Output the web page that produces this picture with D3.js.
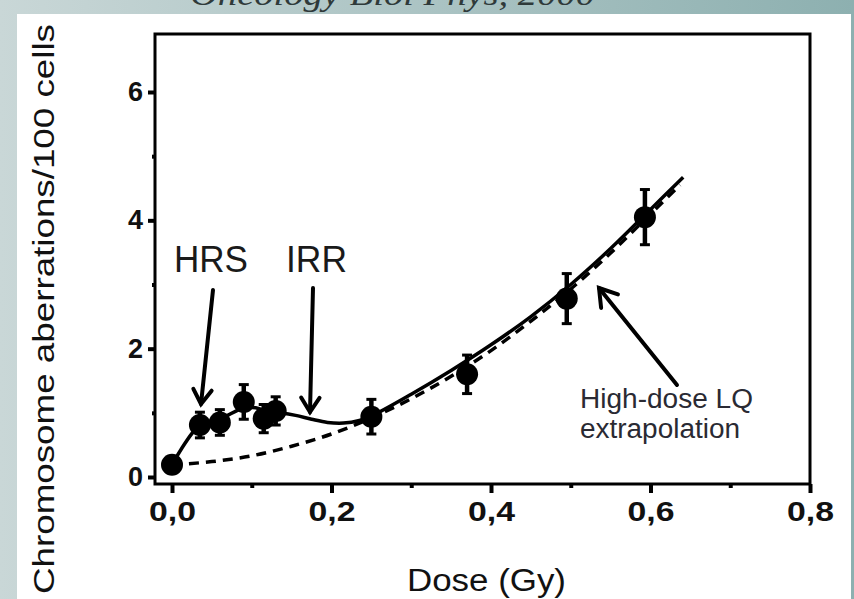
<!DOCTYPE html>
<html>
<head>
<meta charset="utf-8">
<script src="https://cdn.jsdelivr.net/npm/d3@7/dist/d3.min.js"></script>
<style>
  html, body { margin: 0; padding: 0; background: #fff; }
  svg { display: block; }
</style>
</head>
<body>
<svg id="chart" width="854" height="599"></svg>
<script>
// ---------- DATA ----------
const doses        = [0.0, 0.035, 0.06, 0.09, 0.115, 0.13, 0.25, 0.37, 0.495, 0.593];
const aberrations  = [0.19, 0.81, 0.85, 1.17, 0.91, 1.03, 0.94, 1.6, 2.78, 4.05];
const errors       = [0.08, 0.2, 0.2, 0.27, 0.22, 0.22, 0.27, 0.3, 0.39, 0.43];

// fitted (solid) curve
const fitDose  = [0.0, 0.035, 0.06, 0.09, 0.105, 0.12, 0.135, 0.155, 0.175, 0.195, 0.215, 0.235, 0.25, 0.3, 0.35, 0.4, 0.45, 0.5, 0.55, 0.6, 0.641];
const fitValue = [0.19, 0.81, 0.9, 1.08, 1.08, 1.02, 1.0, 0.96, 0.9, 0.85, 0.84, 0.88, 0.95, 1.29, 1.66, 2.06, 2.5, 3.0, 3.56, 4.17, 4.67];

// high-dose LQ extrapolation (dashed)
const lqDose  = [0.0, 0.05, 0.1, 0.15, 0.2, 0.25, 0.3, 0.35, 0.4, 0.45, 0.5, 0.55, 0.6, 0.637];
const lqValue = [0.19, 0.24, 0.33, 0.48, 0.67, 0.92, 1.22, 1.57, 1.97, 2.43, 2.93, 3.49, 4.1, 4.55];

const xTickValues = [0.0, 0.2, 0.4, 0.6, 0.8];
const xTickLabels = ["0,0", "0,2", "0,4", "0,6", "0,8"];
const xMinorTicks = [0.1, 0.3, 0.5, 0.7];
const yTickValues = [0, 2, 4, 6];
const yTickLabels = ["0", "2", "4", "6"];
const yMinorTicks = [1, 3, 5];

const xTitle = "Dose (Gy)";
const yTitle = "Chromosome aberrations/100 cells";
const topCaption = "Oncology Biol Phys, 2000";
const annHRS = "HRS";
const annIRR = "IRR";
const annLQ = ["High-dose LQ", "extrapolation"];

// ---------- DRAW ----------
const svg = d3.select("#chart");
const W = 854, H = 599;

// slide background gradient
const defs = svg.append("defs");
const grad = defs.append("linearGradient").attr("id", "bg").attr("x1", "0").attr("x2", "1").attr("y1", "0").attr("y2", "0");
grad.append("stop").attr("offset", "0%").attr("stop-color", "#c9d7d7");
grad.append("stop").attr("offset", "100%").attr("stop-color", "#8db0b0");
svg.append("rect").attr("width", W).attr("height", H).attr("fill", "url(#bg)");

// caption at the very top (cut off by the slide edge, as in the source)
svg.append("text")
  .attr("x", 190).attr("y", 5)
  .attr("font-family", "Liberation Serif, Times New Roman, serif")
  .attr("font-style", "italic")
  .attr("font-size", 32)
  .attr("fill", "#2f3a3a")
  .attr("textLength", 405).attr("lengthAdjust", "spacingAndGlyphs")
  .text(topCaption);

// white panel
svg.append("rect").attr("x", 17).attr("y", 14).attr("width", 834).attr("height", H - 14).attr("fill", "#ffffff");

const x = d3.scaleLinear().domain([0, 0.8]).range([172, 810]);
const y = d3.scaleLinear().domain([0, 6]).range([477, 92]);

const frame = { left: 155, right: 810, top: 34, bottom: 484 };

// axes
const xAxis = svg.append("g").attr("transform", `translate(0,${frame.bottom})`)
  .call(d3.axisBottom(x).tickValues(xTickValues).tickFormat((d, i) => xTickLabels[i]).tickSize(9).tickPadding(9).tickSizeOuter(0));
xAxis.select(".domain").remove();
xAxis.selectAll(".tick line").attr("stroke", "#000").attr("stroke-width", 4);
xAxis.selectAll(".tick text")
  .attr("font-family", "Liberation Sans, Arial, sans-serif").attr("font-weight", "bold")
  .attr("font-size", 27).attr("fill", "#111")
  .attr("textLength", 47).attr("lengthAdjust", "spacingAndGlyphs");

const xMinor = svg.append("g").attr("transform", `translate(0,${frame.bottom})`)
  .call(d3.axisBottom(x).tickValues(xMinorTicks).tickFormat("").tickSize(4).tickSizeOuter(0));
xMinor.select(".domain").remove();
xMinor.selectAll(".tick line").attr("stroke", "#000").attr("stroke-width", 4);

const yAxis = svg.append("g").attr("transform", `translate(${frame.left},0)`)
  .call(d3.axisLeft(y).tickValues(yTickValues).tickFormat((d, i) => yTickLabels[i]).tickSize(7).tickPadding(5).tickSizeOuter(0));
yAxis.select(".domain").remove();
yAxis.selectAll(".tick line").attr("stroke", "#000").attr("stroke-width", 4);
yAxis.selectAll(".tick text")
  .attr("font-family", "Liberation Sans, Arial, sans-serif").attr("font-weight", "bold")
  .attr("font-size", 27).attr("fill", "#111");

const yMinor = svg.append("g").attr("transform", `translate(${frame.left},0)`)
  .call(d3.axisLeft(y).tickValues(yMinorTicks).tickFormat("").tickSize(3).tickSizeOuter(0));
yMinor.select(".domain").remove();
yMinor.selectAll(".tick line").attr("stroke", "#000").attr("stroke-width", 4);

// frame
svg.append("rect")
  .attr("x", frame.left).attr("y", frame.top)
  .attr("width", frame.right - frame.left).attr("height", frame.bottom - frame.top)
  .attr("fill", "none").attr("stroke", "#000").attr("stroke-width", 3);

// axis titles
svg.append("text")
  .attr("x", 407).attr("y", 591)
  .attr("font-family", "Liberation Sans, Arial, sans-serif")
  .attr("font-size", 31).attr("fill", "#111")
  .attr("textLength", 159).attr("lengthAdjust", "spacingAndGlyphs")
  .text(xTitle);

svg.append("text")
  .attr("transform", "translate(54,594) rotate(-90)")
  .attr("font-family", "Liberation Sans, Arial, sans-serif")
  .attr("font-size", 29).attr("fill", "#111")
  .attr("textLength", 570).attr("lengthAdjust", "spacingAndGlyphs")
  .text(yTitle);

// curves
const pts = (xs, ys) => xs.map((d, i) => [d, ys[i]]);
const line = d3.line().x(d => x(d[0])).y(d => y(d[1])).curve(d3.curveMonotoneX);

svg.append("path").datum(pts(lqDose, lqValue))
  .attr("d", line).attr("fill", "none").attr("stroke", "#000")
  .attr("stroke-width", 3.5).attr("stroke-dasharray", "10,7");

svg.append("path").datum(pts(fitDose, fitValue))
  .attr("d", d3.line().x(d => x(d[0])).y(d => y(d[1])).curve(d3.curveCatmullRom.alpha(0.5)))
  .attr("fill", "none").attr("stroke", "#000").attr("stroke-width", 3.5);

// error bars
const data = pts(doses, aberrations).map((d, i) => ({ dose: d[0], val: d[1], err: errors[i] }));
const eb = svg.append("g");
eb.selectAll("line.v").data(data).join("line")
  .attr("x1", d => x(d.dose)).attr("x2", d => x(d.dose))
  .attr("y1", d => y(d.val + d.err)).attr("y2", d => y(d.val - d.err))
  .attr("stroke", "#000").attr("stroke-width", 4.5);
["top", "bot"].forEach(k => {
  eb.selectAll("line.c" + k).data(data).join("line")
    .attr("x1", d => x(d.dose) - 5).attr("x2", d => x(d.dose) + 5)
    .attr("y1", d => y(k === "top" ? d.val + d.err : d.val - d.err))
    .attr("y2", d => y(k === "top" ? d.val + d.err : d.val - d.err))
    .attr("stroke", "#000").attr("stroke-width", 3);
});

// markers
svg.append("g").selectAll("circle").data(data).join("circle")
  .attr("cx", d => x(d.dose)).attr("cy", d => y(d.val))
  .attr("r", 11).attr("fill", "#000");

// annotations
const annFont = "Liberation Sans, Arial, sans-serif";
svg.append("text").attr("x", 174).attr("y", 272)
  .attr("font-family", annFont).attr("font-size", 36).attr("fill", "#1a1a1a")
  .attr("textLength", 74).attr("lengthAdjust", "spacingAndGlyphs").text(annHRS);
svg.append("text").attr("x", 286).attr("y", 272)
  .attr("font-family", annFont).attr("font-size", 36).attr("fill", "#1a1a1a")
  .attr("textLength", 61).attr("lengthAdjust", "spacingAndGlyphs").text(annIRR);

function arrow(x1, y1, x2, y2, wing) {
  const a = Math.atan2(y2 - y1, x2 - x1);
  const g = svg.append("g").attr("stroke", "#000").attr("stroke-width", 4).attr("fill", "none").attr("stroke-linecap", "round");
  g.append("line").attr("x1", x1).attr("y1", y1).attr("x2", x2).attr("y2", y2);
  const s = Math.PI / 5.5;
  g.append("polyline").attr("points", [
    [x2 - wing * Math.cos(a - s), y2 - wing * Math.sin(a - s)],
    [x2, y2],
    [x2 - wing * Math.cos(a + s), y2 - wing * Math.sin(a + s)]
  ].map(p => p.join(",")).join(" "));
}
arrow(213, 290, 201, 404, 17);
arrow(313, 288, 310, 412, 17);
arrow(677, 385, 599, 288, 20);

annLQ.forEach((t, i) => {
  svg.append("text").attr("x", 580).attr("y", 408 + i * 30)
    .attr("font-family", annFont).attr("font-size", 27).attr("fill", "#2a2a33")
    .attr("textLength", i === 0 ? 173 : 160).attr("lengthAdjust", "spacingAndGlyphs")
    .text(t);
});
</script>
</body>
</html>
